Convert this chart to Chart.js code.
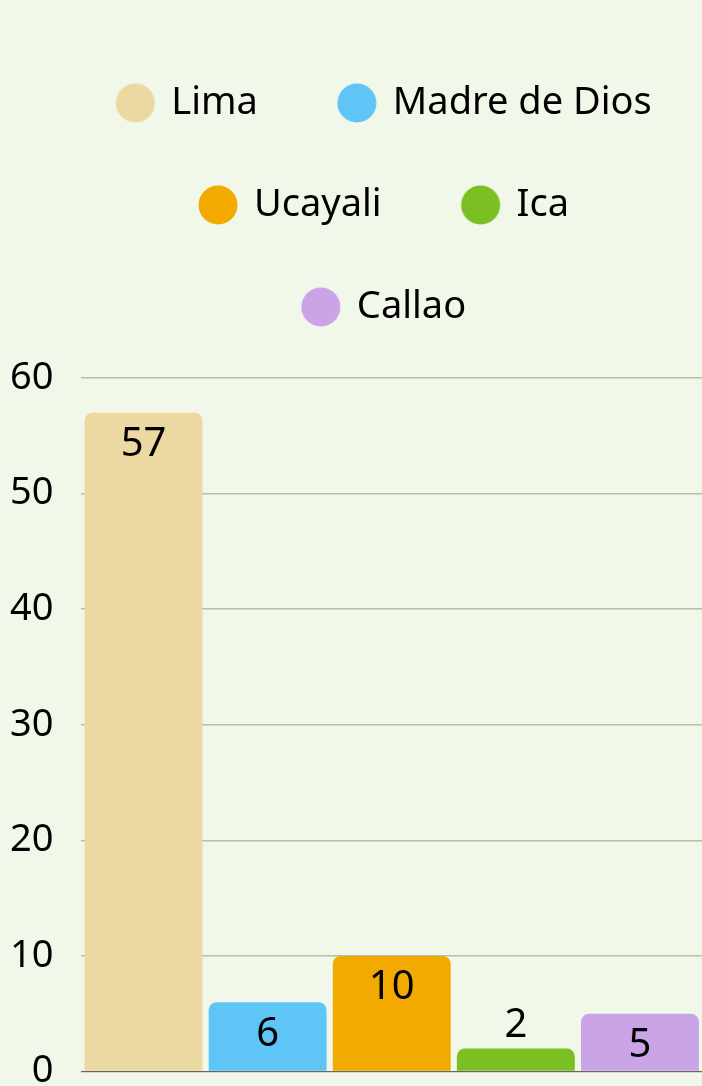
<!DOCTYPE html>
<html>
<head>
<meta charset="utf-8">
<script src="https://cdn.jsdelivr.net/npm/chart.js@4.4.1/dist/chart.umd.min.js"></script>
<style>
  html, body { margin: 0; padding: 0; background: #f1f7e9; overflow: hidden; }
  /* a bit taller than the window so the "0" tick is cut at the bottom edge */
  #wrap { width: 702px; height: 1111px; }
</style>
</head>
<body>
<div id="wrap"><canvas id="bar-chart"></canvas></div>
<script>
// values
var regions = ["Lima", "Madre de Dios", "Ucayali", "Ica", "Callao"];
var cases = [57, 6, 10, 2, 5];
var colors = ["#ecd9a1", "#5fc5f7", "#f2aa01", "#7bbf22", "#caa4e6"];
var yTicks = [0, 10, 20, 30, 40, 50, 60];

Chart.defaults.font.family = "'Noto Sans', sans-serif";

// legend dot, drawn right of centre so the legend items get wider gaps
function legendDot(color) {
    var c = document.createElement("canvas");
    c.width = 60;
    c.height = 40;
    var g = c.getContext("2d");
    g.fillStyle = color;
    g.beginPath();
    g.arc(39, 20, 19.5, 0, Math.PI * 2);
    g.fill();
    return c;
}

// one dataset per region, all in one (hidden) category
var datasets = regions.map(function(name, i) {
    return {
        label: name,
        data: [cases[i]],
        backgroundColor: colors[i],
        borderRadius: 8,
        pointStyle: legendDot(colors[i])
    };
});

// value labels inside the bar top, or above it when the bar is short
var valueLabels = {
    id: "valueLabels",
    afterDatasetsDraw: function(chart) {
        var ctx = chart.ctx;
        ctx.save();
        ctx.font = "40px 'Noto Sans'";
        ctx.fillStyle = "#000";
        ctx.textAlign = "center";
        ctx.textBaseline = "middle";
        chart.data.datasets.forEach(function(ds, i) {
            var bar = chart.getDatasetMeta(i).data[0];
            var h = bar.base - bar.y;
            var y = h > 40 ? bar.y + 32 : bar.y - 23;
            ctx.fillText(ds.data[0], bar.x, y);
        });
        ctx.restore();
    }
};

// legend: extra space below it, shifted to the right
var legendTweak = {
    id: "legendTweak",
    beforeInit: function(chart) {
        var fit = chart.legend.fit;
        chart.legend.fit = function() {
            var full = this.maxWidth;
            this.maxWidth = 720;
            fit.call(this);
            this.maxWidth = full;
            this.width = full;
            this.height += 42;
        };
    },
    afterLayout: function(chart) {
        chart.legend.left += 34;
        chart.legend.right += 34;
    }
};

var chart = new Chart(document.getElementById("bar-chart"), {
    type: "bar",
    data: {
        labels: [""],
        datasets: datasets
    },
    options: {
        responsive: true,
        maintainAspectRatio: false,
        animation: false,
        layout: {
            padding: { top: 20, left: -18, right: 0, bottom: 0 }
        },
        datasets: {
            bar: { categoryPercentage: 1, barPercentage: 0.95 }
        },
        scales: {
            x: {
                grid: { display: false, drawTicks: false },
                ticks: { display: false },
                border: { color: "#666", width: 1 }
            },
            y: {
                min: yTicks[0],
                max: yTicks[yTicks.length - 1],
                ticks: {
                    stepSize: yTicks[1] - yTicks[0],
                    color: "#000",
                    padding: 28,
                    font: { size: 38, lineHeight: 0.6 }
                },
                grid: { color: "#b6beae", lineWidth: 1.5, drawTicks: false },
                border: { display: false }
            }
        },
        plugins: {
            legend: {
                position: "top",
                labels: {
                    usePointStyle: true,
                    pointStyleWidth: 52,
                    boxHeight: 27.6,
                    padding: 64,
                    color: "#000",
                    font: { size: 38 }
                }
            },
            tooltip: { enabled: false }
        }
    },
    plugins: [valueLabels, legendTweak]
});
</script>
</body>
</html>
